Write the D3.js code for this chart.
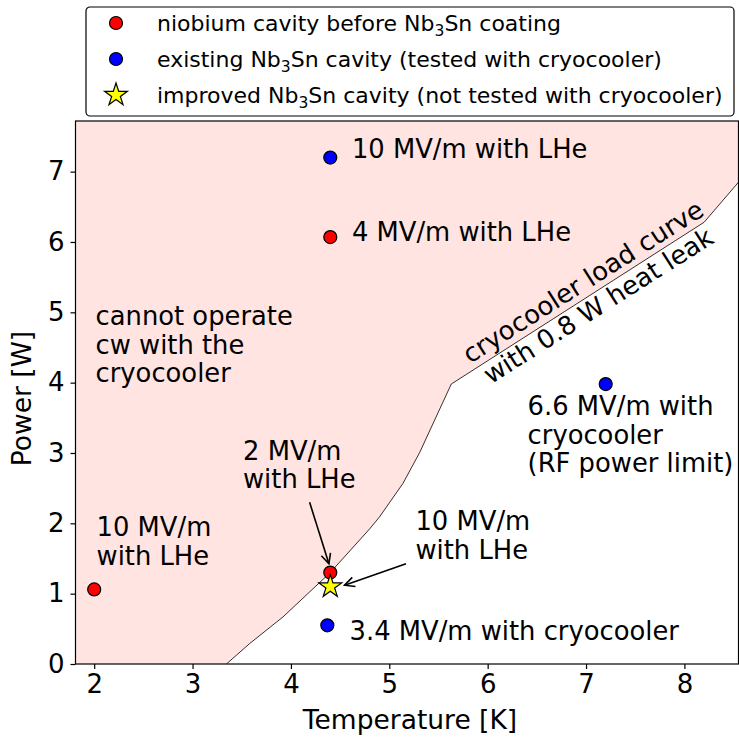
<!DOCTYPE html>
<html><head><meta charset="utf-8">
<script src="https://cdn.jsdelivr.net/npm/d3@7"></script>
<style>body{margin:0;background:#fff} text{font-family:"DejaVu Sans",sans-serif;fill:#000}</style>
</head><body><svg id="c" width="739" height="741"></svg>
<script>
// ---- data ----
const xTicks = [2, 3, 4, 5, 6, 7, 8];
const yTicks = [0, 1, 2, 3, 4, 5, 6, 7];
const curveT = [3.344, 3.58, 3.92, 4.40, 4.80, 4.90, 5.14, 5.31, 5.63, 8.20, 8.55];
const curveP = [0, 0.29, 0.67, 1.30, 1.92, 2.09, 2.57, 3.01, 3.98, 6.28, 6.85];
const niobiumT = [2.0, 4.40, 4.40];
const niobiumP = [1.06, 6.07, 1.30];
const existingT = [4.40, 7.20, 4.37];
const existingP = [7.20, 3.98, 0.55];
const improvedT = [4.40];
const improvedP = [1.10];
const legendLabels = [
  ["niobium cavity before Nb", "3", "Sn coating"],
  ["existing Nb", "3", "Sn cavity (tested with cryocooler)"],
  ["improved Nb", "3", "Sn cavity (not tested with cryocooler)"]
];

// ---- layout ----
const svg = d3.select("#c");
const L = 75.5, R = 738.5, T = 121, B = 664;
const x = d3.scaleLinear().domain([1.81, 8.55]).range([L, R]);
const y = d3.scaleLinear().domain([0, 7.72]).range([B, T]);
const FS = 25.8;
const TFS = 26;

const defs = svg.append("defs");
defs.append("clipPath").attr("id", "clip").append("rect")
  .attr("x", L).attr("y", T).attr("width", R - L).attr("height", B - T);

const curve = curveT.map((t, i) => [t, curveP[i]]);
const fillPts = [[x.domain()[0], 0]].concat(curve, [[x.domain()[1], curveP[curveP.length - 1]], [x.domain()[1], 7.72], [x.domain()[0], 7.72]]);
const gPlot = svg.append("g").attr("clip-path", "url(#clip)");
gPlot.append("path")
  .attr("d", d3.line().x(d => x(d[0])).y(d => y(d[1]))(fillPts) + "Z")
  .attr("fill", "#ffe4e1").attr("stroke", "none");
gPlot.append("path")
  .attr("d", d3.line().x(d => x(d[0])).y(d => y(d[1]))(curve))
  .attr("fill", "none").attr("stroke", "#000").attr("stroke-width", 0.8);

// axes
const xAxis = d3.axisBottom(x).tickValues(xTicks).tickSize(5).tickPadding(6).tickFormat(d3.format("d"));
const yAxis = d3.axisLeft(y).tickValues(yTicks).tickSize(5).tickPadding(6).tickFormat(d3.format("d"));
const gx = svg.append("g").attr("transform", `translate(0,${B})`).call(xAxis);
const gy = svg.append("g").attr("transform", `translate(${L},0)`).call(yAxis);
[gx, gy].forEach(g => {
  g.select(".domain").remove();
  g.selectAll("line").attr("stroke", "#000").attr("stroke-width", 1.2);
  g.selectAll("text").attr("font-size", TFS).attr("font-family", "DejaVu Sans").attr("fill", "#000");
});
svg.append("rect").attr("x", L).attr("y", T).attr("width", R - L).attr("height", B - T)
  .attr("fill", "none").attr("stroke", "#000").attr("stroke-width", 1.2);

svg.append("text").attr("x", (L + R) / 2 + 3).attr("y", 729).attr("text-anchor", "middle")
  .attr("font-size", 26.5).text("Temperature [K]");
svg.append("text").attr("transform", `translate(31,${(T + B) / 2 + 6}) rotate(-90)`).attr("text-anchor", "middle")
  .attr("font-size", 26.5).text("Power [W]");

// markers
function starPath(cx, cy, Ro) {
  const Ri = Ro * 0.382;
  const pts = [];
  for (let k = 0; k < 10; k++) {
    const a = -Math.PI / 2 + k * Math.PI / 5;
    const r = k % 2 ? Ri : Ro;
    pts.push([cx + r * Math.cos(a), cy + r * Math.sin(a)]);
  }
  return d3.line()(pts) + "Z";
}
const gm = svg.append("g");
gm.selectAll(".nb").data(niobiumT.map((t, i) => [t, niobiumP[i]])).join("circle")
  .attr("cx", d => x(d[0])).attr("cy", d => y(d[1])).attr("r", 6.5)
  .attr("fill", "#ff0000").attr("stroke", "#000").attr("stroke-width", 1.2);
gm.selectAll(".ex").data(existingT.map((t, i) => [t, existingP[i]])).join("circle")
  .attr("cx", d => x(d[0])).attr("cy", d => y(d[1])).attr("r", 6.5)
  .attr("fill", "#0000ff").attr("stroke", "#000").attr("stroke-width", 1.2);
gm.selectAll(".im").data(improvedT.map((t, i) => [t, improvedP[i]])).join("path")
  .attr("d", d => starPath(x(d[0]), y(d[1]), 12))
  .attr("fill", "#ffff00").attr("stroke", "#000").attr("stroke-width", 1.2);

// annotation texts
const LH = 28.4;
function multi(tx, ty, lines, anchor) {
  const t = svg.append("text").attr("x", x(tx)).attr("y", y(ty)).attr("font-size", FS)
    .attr("text-anchor", anchor || "start");
  lines.forEach((s, i) => t.append("tspan").attr("x", x(tx)).attr("dy", i ? LH : 0).text(s));
  return t;
}
multi(4.62, 7.20, ["10 MV/m with LHe"]);
multi(4.62, 6.01, ["4 MV/m with LHe"]);
multi(2.014, 4.816, ["cannot operate", "cw with the", "cryocooler"]);
multi(2.024, 1.814, ["10 MV/m", "with LHe"]);
multi(3.513, 2.905, ["2 MV/m", "with LHe"]);
multi(5.266, 1.90, ["10 MV/m", "with LHe"]);
multi(4.596, 0.336, ["3.4 MV/m with cryocooler"]);
multi(6.406, 3.535, ["6.6 MV/m with", "cryocooler", "(RF power limit)"]);

// rotated curve label
const cx0 = x(7.04), cy0 = y(5.28);
const rt = svg.append("text").attr("transform", `translate(${cx0},${cy0}) rotate(-32.4)`)
  .attr("font-size", FS).attr("text-anchor", "middle");
rt.append("tspan").attr("x", 0).attr("y", -4).text("cryocooler load curve");
rt.append("tspan").attr("x", 0).attr("y", -4 + LH).text("with 0.8 W heat leak");

// arrows
function arrow(x1, y1, x2, y2) {
  const X1 = x(x1), Y1 = y(y1), X2 = x(x2), Y2 = y(y2);
  const a = Math.atan2(Y2 - Y1, X2 - X1), hl = 11, hw = 0.45;
  svg.append("line").attr("x1", X1).attr("y1", Y1).attr("x2", X2).attr("y2", Y2)
    .attr("stroke", "#000").attr("stroke-width", 1.6);
  const p1 = [X2 - hl * Math.cos(a - hw), Y2 - hl * Math.sin(a - hw)];
  const p2 = [X2 - hl * Math.cos(a + hw), Y2 - hl * Math.sin(a + hw)];
  svg.append("path").attr("d", d3.line()([p1, [X2, Y2], p2]))
    .attr("fill", "none").attr("stroke", "#000").attr("stroke-width", 1.6);
}
arrow(4.19, 2.30, 4.386, 1.425);
arrow(5.17, 1.426, 4.545, 1.12);

// legend
const lg = svg.append("g");
lg.append("rect").attr("x", 86).attr("y", 7).attr("width", 648).attr("height", 109).attr("rx", 4)
  .attr("fill", "#fff").attr("stroke", "#000").attr("stroke-width", 1.2);
const rowY = [23, 59, 95];
lg.append("circle").attr("cx", 116).attr("cy", rowY[0]).attr("r", 6.5).attr("fill", "#ff0000").attr("stroke", "#000").attr("stroke-width", 1.2);
lg.append("circle").attr("cx", 116).attr("cy", rowY[1]).attr("r", 6.5).attr("fill", "#0000ff").attr("stroke", "#000").attr("stroke-width", 1.2);
lg.append("path").attr("d", starPath(116, rowY[2], 12)).attr("fill", "#ffff00").attr("stroke", "#000").attr("stroke-width", 1.2);
legendLabels.forEach((parts, i) => {
  const t = lg.append("text").attr("x", 157).attr("y", rowY[i] + 8).attr("font-size", 22);
  t.append("tspan").text(parts[0]);
  t.append("tspan").attr("font-size", 15.5).attr("dy", 5).text(parts[1]);
  t.append("tspan").attr("dy", -5).text(parts[2]);
});
</script></body></html>
